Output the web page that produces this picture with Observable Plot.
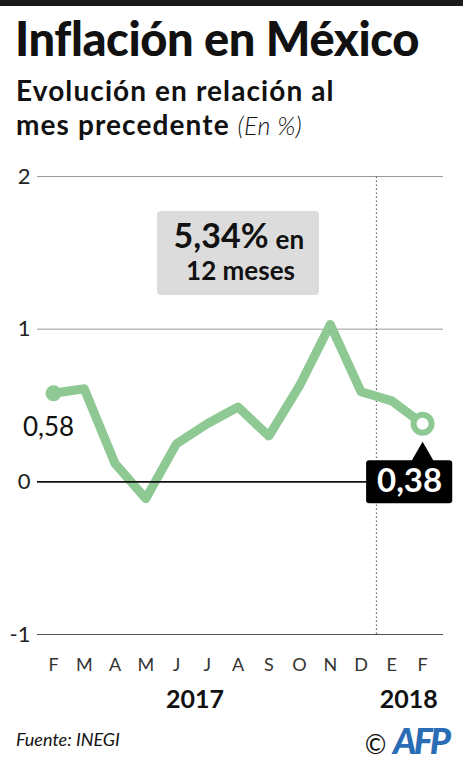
<!DOCTYPE html>
<html><head><meta charset="utf-8">
<script src="https://cdn.jsdelivr.net/npm/d3@7"></script>
<script src="https://cdn.jsdelivr.net/npm/@observablehq/plot@0.6"></script>
<style>
body{margin:0;width:470px;height:768px;background:#fff;position:relative;overflow:hidden;font-family:Lato,"Noto Sans",sans-serif;color:#111}
#bar{position:absolute;left:0;top:0;width:463px;height:6px;background:#1a1a1a}
#title{position:absolute;left:15px;top:12px;font-size:47px;font-weight:900;letter-spacing:-0.4px;line-height:52px;white-space:nowrap}
.sub{position:absolute;left:16px;font-size:28px;font-weight:700;line-height:34px;white-space:nowrap;letter-spacing:1.1px}
.sub i{font-weight:300;font-size:25px;letter-spacing:0.3px}
#chart{position:absolute;left:0;top:155px}
#src{position:absolute;left:16px;top:728px;font-size:18px;font-style:italic;white-space:nowrap}
#afp{position:absolute;right:22px;top:718px;white-space:nowrap;font-size:26px}
#afp b{color:#2a6db5;font-style:italic;font-weight:900;font-size:36px;letter-spacing:-3px}
</style></head>
<body>
<div id="bar"></div>
<div id="title">Inflación en México</div>
<div class="sub" style="top:73px">Evolución en relación al</div>
<div class="sub" style="top:107px">mes precedente <i>(En %)</i></div>
<div id="chart"></div>
<div id="src">Fuente: INEGI</div>
<div id="afp">© <b>AFP</b></div>
<script>
const months = ["F","M","A","M","J","J","A","S","O","N","D","E","F"];
const values = [0.58,0.61,0.12,-0.11,0.25,0.38,0.49,0.30,0.63,1.03,0.59,0.53,0.38];
const yTicks = [-1,0,1,2];
const years = [{label:"2017", x:4.6},{label:"2018", x:11.55}];
const yearBreak = [10.5];
const summaryBox = [{x1:3.38, x2:8.65, y1:1.77, y2:1.22}];
const lastBox = [{x1:10.18, x2:12.98, y1:0.1375, y2:-0.144}];

const data = values.map((v,i)=>({i, v, m:months[i]}));
const first = data[0], last = data[data.length-1];
const cx = (summaryBox[0].x1 + summaryBox[0].x2) / 2;

const chart = Plot.plot({
  width:470, height:565,
  marginLeft:37, marginRight:27, marginTop:21, marginBottom:86,
  style:{fontFamily:"Lato, 'Noto Sans', sans-serif", background:"transparent"},
  x:{domain:[-0.52,12.68], axis:null},
  y:{domain:[-1,2], axis:null},
  marks:[
    Plot.ruleY(yTicks.filter(d=>d>0), {stroke:"#9a9a9a", strokeWidth:1}),
    Plot.ruleY([-1], {stroke:"#555", strokeWidth:1.2}),
    Plot.ruleX(yearBreak, {y1:-1, y2:2, stroke:"#666", strokeWidth:1.2, strokeDasharray:"1.5,2.5"}),
    Plot.text(yTicks, {x:-0.52, y:d=>d, text:d=>String(d), textAnchor:"end", dx:-7, fontSize:22, fill:"#222"}),
    Plot.text(data, {x:"i", y:-1, text:"m", dy:31, fontSize:18, fill:"#333"}),
    Plot.text(years, {x:"x", y:-1, text:"label", dy:65, fontSize:25, fontWeight:"bold", fill:"#111"}),
    Plot.rect(summaryBox, {x1:"x1", x2:"x2", y1:"y1", y2:"y2", fill:"#dcdcdc", rx:4}),
    Plot.text(["5,34%"], {x:cx, y:summaryBox[0].y1, text:d=>d, dx:30, dy:25, textAnchor:"end", fontSize:34, fontWeight:"bold", fill:"#111"}),
    Plot.text(["en"], {x:cx, y:summaryBox[0].y1, text:d=>d, dx:37, dy:29, textAnchor:"start", fontSize:26, fontWeight:"bold", fill:"#111"}),
    Plot.text(["12 meses"], {x:cx, y:summaryBox[0].y1, text:d=>d, dx:2, dy:60, fontSize:26, fontWeight:"bold", fill:"#111"}),
    Plot.line(data, {x:"i", y:"v", stroke:"#8ec994", strokeWidth:9, strokeLinejoin:"round", strokeLinecap:"round"}),
    Plot.dot([first], {x:"i", y:"v", r:8, fill:"#8ec994"}),
    Plot.dot([last], {x:"i", y:"v", r:9, fill:"#fff", stroke:"#8ec994", strokeWidth:6}),
    Plot.ruleY([0], {x1:-0.52, x2:lastBox[0].x1, stroke:"#111", strokeWidth:1.6}),
    Plot.rect(lastBox, {x1:"x1", x2:"x2", y1:"y1", y2:"y2", fill:"#000", rx:3}),
    Plot.dot([last], {x:"i", y:"v", symbol:"triangle", r:9, fill:"#000", dy:32}),
    Plot.text([last], {x:"i", y:0, text:d=>d.v.toFixed(2).replace(".",","), dx:-13, dy:0, fontSize:33, fontWeight:"bold", fill:"#fff"}),
    Plot.text([first], {x:"i", y:"v", text:d=>d.v.toFixed(2).replace(".",","), dx:-5, dy:34, fontSize:26, fill:"#111"})
  ]
});
document.getElementById("chart").append(chart);
</script>
</body></html>
